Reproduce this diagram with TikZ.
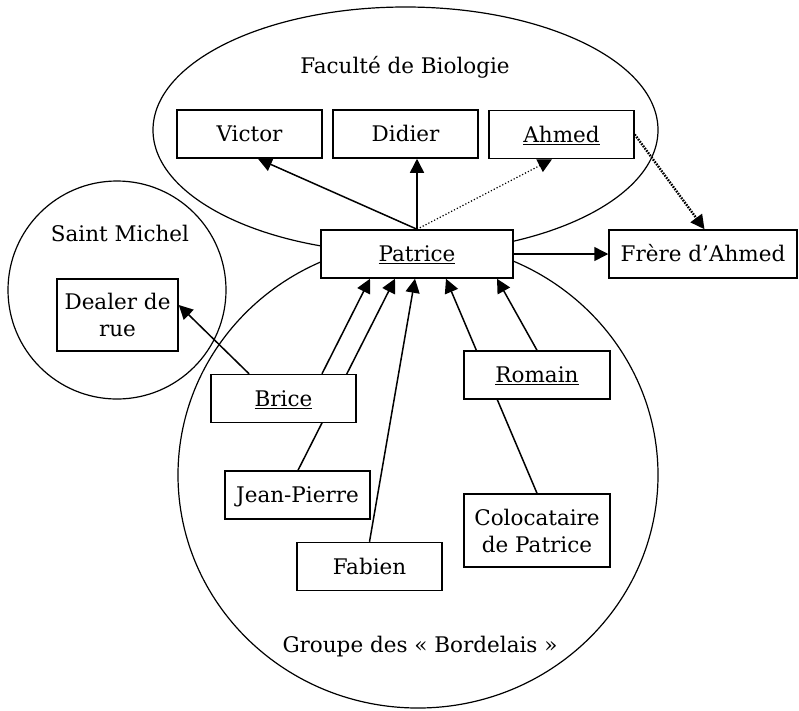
\documentclass[tikz,border=0pt]{standalone}
\usepackage{fontspec}
\setmainfont{DejaVu Serif}
\usetikzlibrary{arrows.meta,calc}
\begin{document}
\begin{tikzpicture}[x=1pt,y=-1pt,
  boxnode/.style={draw, fill=white, line width=1.5pt, minimum width=145pt, minimum height=48pt,
    inner sep=0pt, font=\fontsize{21.5}{27}\selectfont},
  oneline/.style={boxnode, text height=15.7pt, text depth=0pt},
  twoline/.style={boxnode, align=center},
  group/.style={draw, line width=1.2pt},
  grouplabel/.style={anchor=base, inner sep=0pt, font=\fontsize{21.5}{27}\selectfont},
  link/.style={line width=1.5pt, -{Triangle[length=14pt,width=14pt]}},
  thinlink/.style={line width=1.2pt, dotted, -{Triangle[length=14pt,width=14pt]}},
  thicklink/.style={line width=2.4pt, dash pattern=on 1.6pt off 1.2pt, -{Triangle[length=14pt,width=14pt]}}
]
\useasboundingbox (0,0) rectangle (799,710);

% group outlines
\draw[group] (405.5,130) ellipse [x radius=252.5, y radius=123];
\draw[group] (117,290) circle [radius=109];
\draw[group] (418,475) ellipse [x radius=240, y radius=233];

\node[grouplabel] (fac) at (405,73) {Facult\'e de Biologie};
\node[grouplabel] (stm) at (120,241) {Saint Michel};
\node[grouplabel] (bord) at (420,652) {Groupe des «~Bordelais~»};

% nodes (coordinates only, drawn later over the connectors)
\path
  node[oneline] (victor) at (249.5,134) {Victor}
  node[oneline] (didier) at (405.5,134) {Didier}
  node[oneline] (ahmed)  at (561.5,134.5) {\underline{Ahmed}}
  node[oneline, minimum width=192pt] (patrice) at (417,254) {\underline{Patrice}}
  node[oneline, minimum width=188pt] (frere) at (703,254) {Fr\`ere d’Ahmed}
  node[twoline, minimum width=121pt, minimum height=72pt] (dealer) at (117.5,315) {Dealer de\\rue}
  node[oneline] (brice)  at (283.5,398.5) {\underline{Brice}}
  node[oneline] (jp)     at (297.5,495) {Jean-Pierre}
  node[oneline] (fabien) at (369.5,566.5) {Fabien}
  node[oneline, minimum width=146pt] (romain) at (537,375) {\underline{Romain}}
  node[twoline, minimum width=146pt, minimum height=73pt] (coloc) at (537,530.5) {Colocataire\\de Patrice};

% connectors
\draw[link] (patrice.north) -- ($(victor.south)+(8.5,0)$);
\draw[link] (patrice.north) -- (patrice.north |- didier.south);
\draw[thinlink] (patrice.north) -- ($(ahmed.south)+(-9.5,0)$);
\draw[thicklink] (ahmed.east) -- ($(frere.north)+(1.5,0)$);
\draw[link] (patrice.east) -- (frere.west);
\draw[link] ($(brice.north)+(38.5,0)$) -- ($(patrice.south)+(-47,0)$);
\draw[link] ($(jp.north)+(0.5,0)$) -- ($(patrice.south)+(-22,0)$);
\draw[link] (fabien.north) -- ($(patrice.south)+(-2,0)$);
\draw[link] (romain.north) -- ($(patrice.south)+(80,0)$);
\draw[link] ($(coloc.north)+(0,0)$) -- ($(patrice.south)+(29,0)$);
\draw[link] ($(brice.north)+(-34.5,0)$) -- ($(dealer.east)+(0,-10)$);

% redraw nodes on top
\node[oneline] at (victor) {Victor};
\node[oneline] at (didier) {Didier};
\node[oneline] at (ahmed) {\underline{Ahmed}};
\node[oneline, minimum width=192pt] at (patrice) {\underline{Patrice}};
\node[oneline, minimum width=188pt] at (frere) {Fr\`ere d’Ahmed};
\node[twoline, minimum width=121pt, minimum height=72pt] at (dealer) {Dealer de\\rue};
\node[oneline] at (brice) {\underline{Brice}};
\node[oneline] at (jp) {Jean-Pierre};
\node[oneline] at (fabien) {Fabien};
\node[oneline, minimum width=146pt] at (romain) {\underline{Romain}};
\node[twoline, minimum width=146pt, minimum height=73pt] at (coloc) {Colocataire\\de Patrice};
\end{tikzpicture}
\end{document}
